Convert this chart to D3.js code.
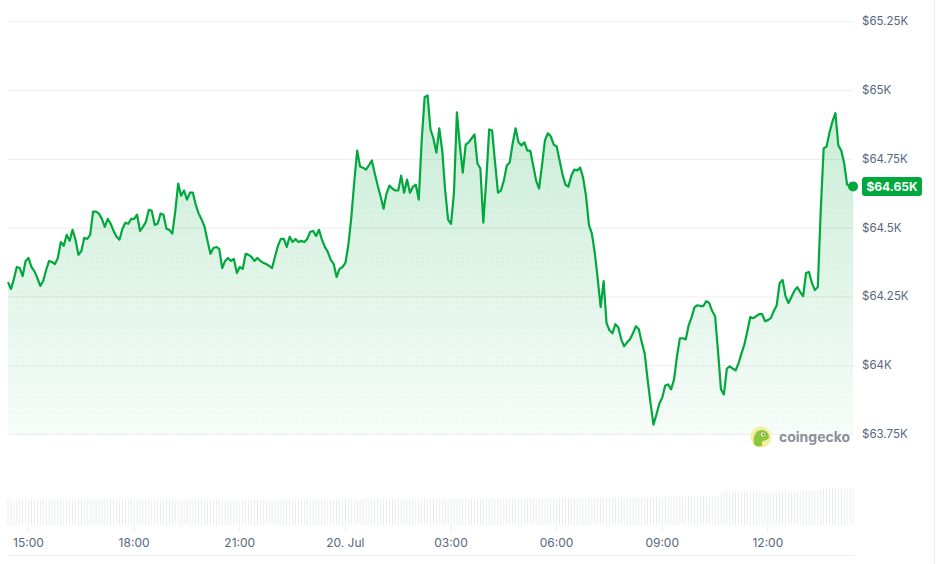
<!DOCTYPE html>
<html>
<head>
<meta charset="utf-8">
<script src="https://cdn.jsdelivr.net/npm/d3@7"></script>
<style>
  html, body { margin: 0; padding: 0; background: #fff; }
  svg { display: block; font-family: Inter, "Noto Sans", sans-serif; }
</style>
</head>
<body>
<svg id="chart"></svg>
<script>
const width = 936;
const height = 564;
const lineColor = "#00a83e";

// 5-minute BTC price samples (USD), 19 Jul 14:26 -> 20 Jul 14:26 (UTC)
const startTime = "2024-07-19T14:26:00Z";
const stepMinutes = 5;

const prices = [
  64302, 64277, 64313, 64357, 64353, 64324, 64379, 64390, 64357, 64342,
  64317, 64288, 64306, 64346, 64379, 64375, 64368, 64390, 64448, 64434,
  64474, 64452, 64492, 64456, 64401, 64415, 64463, 64459, 64474, 64558,
  64558, 64551, 64532, 64503, 64532, 64514, 64488, 64467, 64456, 64496,
  64518, 64514, 64532, 64532, 64547, 64488, 64503, 64521, 64565, 64561,
  64510, 64514, 64551, 64547, 64496, 64492, 64478, 64558, 64660, 64616,
  64635, 64602, 64627, 64627, 64583, 64551, 64529, 64503, 64452, 64405,
  64426, 64430, 64423, 64353, 64379, 64390, 64379, 64386, 64335, 64357,
  64350, 64405, 64401, 64394, 64379, 64390, 64379, 64372, 64368, 64361,
  64353, 64394, 64434, 64459, 64459, 64430, 64467, 64448, 64459, 64448,
  64452, 64448, 64459, 64485, 64488, 64470, 64492, 64456, 64430, 64412,
  64383, 64368, 64321, 64350, 64357, 64372, 64437, 64536, 64664, 64780,
  64722, 64718, 64711, 64726, 64744, 64697, 64653, 64613, 64569, 64624,
  64653, 64642, 64635, 64635, 64689, 64627, 64675, 64627, 64649, 64656,
  64602, 64817, 64974, 64981, 64857, 64824, 64773, 64861, 64780, 64635,
  64529, 64514, 64627, 64919, 64799, 64700, 64802, 64810, 64824, 64839,
  64733, 64715, 64518, 64671, 64857, 64853, 64737, 64627, 64635, 64671,
  64726, 64737, 64806, 64861, 64810, 64799, 64810, 64780, 64780, 64726,
  64671, 64642, 64726, 64817, 64843, 64832, 64802, 64795, 64744, 64693,
  64656, 64649, 64689, 64711, 64708, 64718, 64682, 64616, 64510, 64478,
  64408, 64313, 64211, 64306, 64153, 64127, 64116, 64149, 64138, 64094,
  64069, 64083, 64094, 64116, 64142, 64131, 64083, 64043, 63948, 63861,
  63784, 63821, 63861, 63883, 63926, 63930, 63912, 63948, 64032, 64098,
  64098, 64094, 64145, 64175, 64211, 64218, 64215, 64215, 64233, 64226,
  64197, 64178, 64051, 63912, 63894, 63988, 63996, 63988, 63981, 64007,
  64043, 64076, 64124, 64175, 64171, 64178, 64186, 64186, 64160, 64164,
  64171, 64197, 64218, 64299, 64310, 64251, 64226, 64248, 64270, 64284,
  64266, 64251, 64335, 64339, 64299, 64273, 64284, 64562, 64788, 64795,
  64846, 64886, 64916, 64799, 64780, 64733, 64656, 64653, 64650
];

// rolling 24h volume (USD billions), one bar per sample
const volumes = [
  25.6, 25.4, 25.5, 25.7, 25.6, 25.5, 25.3, 25.4, 25.6, 25.5,
  25.5, 25.7, 25.8, 25.6, 25.5, 25.6, 25.4, 25.5, 25.7, 25.6,
  25.8, 25.9, 25.7, 25.6, 25.8, 25.7, 25.6, 25.5, 25.7, 25.8,
  25.9, 25.8, 25.6, 25.7, 25.9, 26.0, 25.8, 25.7, 25.6, 25.8,
  25.7, 25.6, 25.5, 25.7, 25.6, 25.5, 25.4, 25.6, 25.5, 25.4,
  25.5, 25.6, 25.4, 25.3, 25.5, 25.6, 25.5, 25.4, 25.6, 25.7,
  25.8, 25.6, 25.5, 25.7, 25.6, 25.4, 25.5, 25.6, 25.4, 25.3,
  25.4, 25.5, 25.3, 25.4, 25.2, 25.3, 25.4, 25.3, 25.2, 25.4,
  25.3, 25.2, 25.3, 25.4, 25.2, 25.1, 25.3, 25.2, 25.3, 25.4,
  25.5, 25.4, 25.6, 25.5, 25.4, 25.5, 25.6, 25.7, 25.5, 25.6,
  25.7, 25.6, 25.5, 25.7, 25.8, 25.6, 25.7, 25.8, 25.6, 25.5,
  25.6, 25.5, 25.8, 25.7, 25.6, 25.8, 26.0, 26.3, 26.2, 26.1,
  26.0, 26.2, 26.1, 25.9, 26.0, 26.1, 25.9, 26.0, 25.8, 25.9,
  25.8, 25.9, 26.0, 25.8, 25.9, 25.7, 25.8, 25.9, 25.8, 25.7,
  25.9, 26.3, 26.5, 26.4, 26.2, 26.3, 26.1, 26.2, 26.0, 26.1,
  26.2, 26.0, 26.1, 26.3, 26.1, 26.2, 26.0, 26.1, 26.2, 26.3,
  26.4, 26.3, 26.5, 26.4, 26.6, 26.5, 26.4, 26.6, 26.5, 26.7,
  26.6, 26.5, 26.7, 26.6, 26.8, 26.7, 26.6, 26.8, 26.7, 26.9,
  26.8, 26.7, 26.9, 26.8, 26.7, 26.9, 27.0, 26.8, 26.9, 27.0,
  26.9, 27.0, 27.1, 26.9, 27.0, 27.1, 27.0, 27.2, 27.1, 27.3,
  27.2, 27.4, 27.3, 27.2, 27.4, 27.3, 27.2, 27.4, 27.3, 27.2,
  27.1, 27.3, 27.2, 27.1, 27.3, 27.2, 27.1, 27.3, 27.2, 27.4,
  27.6, 27.8, 28.0, 28.4, 28.5, 28.6, 28.4, 28.5, 28.6, 28.7,
  28.5, 28.6, 28.7, 28.6, 28.5, 28.7, 28.8, 28.6, 28.7, 28.6,
  28.8, 28.9, 29.5, 30.8, 33.4, 33.6, 33.5, 33.7, 33.6, 33.5,
  33.6, 33.7, 33.8, 33.6, 33.7, 33.8, 33.6, 33.7, 33.8, 33.9,
  33.7, 33.8, 33.9, 34.0, 33.8, 33.9, 34.0, 33.8, 33.9, 34.0,
  33.9, 33.8, 34.0, 33.9, 33.8, 34.0, 34.4, 35.6, 36.0, 36.2,
  36.1, 36.3, 36.4, 36.2, 36.3, 36.5, 36.4, 36.6, 36.5
];

const yTicks = [63750, 64000, 64250, 64500, 64750, 65000, 65250];
const yTickLabels = ["$63.75K", "$64K", "$64.25K", "$64.5K", "$64.75K", "$65K", "$65.25K"];

const xTicks = ["2024-07-19T15:00:00Z", "2024-07-19T18:00:00Z", "2024-07-19T21:00:00Z",
  "2024-07-20T00:00:00Z", "2024-07-20T03:00:00Z", "2024-07-20T06:00:00Z",
  "2024-07-20T09:00:00Z", "2024-07-20T12:00:00Z"];
const xTickLabels = ["15:00", "18:00", "21:00", "20. Jul", "03:00", "06:00", "09:00", "12:00"];

const t0 = new Date(startTime);
const data = prices.map((p, i) => ({
  t: new Date(t0.getTime() + i * stepMinutes * 60000),
  price: p,
  vol: volumes[i]
}));

const svg = d3.select("#chart")
  .attr("width", width)
  .attr("height", height);

const x = d3.scaleUtc()
  .domain(d3.extent(data, d => d.t))
  .range([8, 853]);

const y = d3.scaleLinear()
  .domain([63750, 65250])
  .range([434, 21.3]);

const yVol = d3.scaleLinear()
  .domain([0, 40])
  .range([525, 485]);

const defs = svg.append("defs");

const grad = defs.append("linearGradient")
  .attr("id", "areaGrad")
  .attr("gradientUnits", "userSpaceOnUse")
  .attr("x1", 0).attr("y1", y(65000))
  .attr("x2", 0).attr("y2", y(63750));
grad.append("stop").attr("offset", "0%").attr("stop-color", lineColor).attr("stop-opacity", 0.22);
grad.append("stop").attr("offset", "100%").attr("stop-color", lineColor).attr("stop-opacity", 0.03);

const dots = defs.append("pattern")
  .attr("id", "dots")
  .attr("patternUnits", "userSpaceOnUse")
  .attr("width", 5)
  .attr("height", 5);
dots.append("circle")
  .attr("cx", 2.5).attr("cy", 2.5).attr("r", 0.7)
  .attr("fill", lineColor)
  .attr("fill-opacity", 0.06);

// grid lines + y labels
svg.append("g")
  .selectAll("line")
  .data(yTicks)
  .join("line")
  .attr("x1", 8)
  .attr("x2", 853)
  .attr("y1", d => y(d) + 0.5)
  .attr("y2", d => y(d) + 0.5)
  .attr("stroke", "#ededed")
  .attr("stroke-width", 1);

svg.append("g")
  .selectAll("text")
  .data(yTicks)
  .join("text")
  .attr("x", 862)
  .attr("y", d => y(d))
  .attr("dy", "0.35em")
  .attr("fill", "#58667e")
  .style("font-size", "11.5px")
  .text((d, i) => yTickLabels[i]);

// volume bars
svg.append("g")
  .selectAll("rect")
  .data(data)
  .join("rect")
  .attr("x", d => x(d.t) - 0.4)
  .attr("y", d => yVol(d.vol))
  .attr("width", 0.8)
  .attr("height", d => yVol(0) - yVol(d.vol))
  .attr("fill", "#e6e8eb");

// area + line
const area = d3.area()
  .x(d => x(d.t))
  .y0(y(63750))
  .y1(d => y(d.price));

svg.append("path")
  .datum(data)
  .attr("d", area)
  .attr("fill", "url(#areaGrad)");

svg.append("path")
  .datum(data)
  .attr("d", area)
  .attr("fill", "url(#dots)");

const line = d3.line()
  .x(d => x(d.t))
  .y(d => y(d.price));

svg.append("path")
  .datum(data)
  .attr("d", line)
  .attr("fill", "none")
  .attr("stroke", lineColor)
  .attr("stroke-width", 2.2)
  .attr("stroke-linejoin", "round");

// x axis
const xAxis = d3.axisBottom(x)
  .tickValues(xTicks.map(s => new Date(s)))
  .tickFormat((d, i) => xTickLabels[i])
  .tickSize(6)
  .tickPadding(6);

const gx = svg.append("g")
  .attr("transform", "translate(0,526)")
  .call(xAxis);
gx.select(".domain").remove();
gx.selectAll(".tick line").attr("stroke", "#eceef1");
gx.selectAll(".tick text")
  .attr("fill", "#58667e")
  .style("font-size", "12px")
  .style("font-family", "Inter, 'Noto Sans', sans-serif");

// frame lines
svg.append("line")
  .attr("x1", 8).attr("x2", 854)
  .attr("y1", 555.5).attr("y2", 555.5)
  .attr("stroke", "#eeeeee");
svg.append("line")
  .attr("x1", width - 1.5).attr("x2", width - 1.5)
  .attr("y1", 0).attr("y2", height)
  .attr("stroke", "#eeeeee");

// last price marker
const last = data[data.length - 1];
svg.append("circle")
  .attr("cx", x(last.t))
  .attr("cy", y(last.price))
  .attr("r", 5)
  .attr("fill", lineColor);

const badge = svg.append("g")
  .attr("transform", `translate(862,${y(last.price)})`);
badge.append("rect")
  .attr("x", 0)
  .attr("y", -9.5)
  .attr("width", 60)
  .attr("height", 19)
  .attr("rx", 3)
  .attr("fill", lineColor);
badge.append("text")
  .attr("x", 30)
  .attr("dy", "0.36em")
  .attr("text-anchor", "middle")
  .attr("fill", "#fff")
  .style("font-size", "12px")
  .style("font-weight", 700)
  .text("$" + (last.price / 1000).toFixed(2) + "K");

// coingecko watermark
const wm = svg.append("g")
  .attr("transform", "translate(761,437)");
wm.append("circle").attr("r", 10.5).attr("fill", "#f6efa0");
wm.append("path")
  .attr("d", "M-7,7 C-8,0 -6,-7 1,-7 C6,-7 8,-3 8,1 C6,4 2,3 1,5 L1,9 C-3,10 -6,9 -7,7 Z")
  .attr("fill", "#8dc63f");
wm.append("circle").attr("cx", 2).attr("cy", -2.5).attr("r", 2).attr("fill", "#fff");
wm.append("circle").attr("cx", 2.3).attr("cy", -2.5).attr("r", 1).attr("fill", "#4a5a35");
svg.append("text")
  .attr("x", 779)
  .attr("y", 437)
  .attr("dy", "0.35em")
  .attr("fill", "#8a8f98")
  .style("font-size", "14px")
  .style("font-weight", 700)
  .text("coingecko");
</script>
</body>
</html>
